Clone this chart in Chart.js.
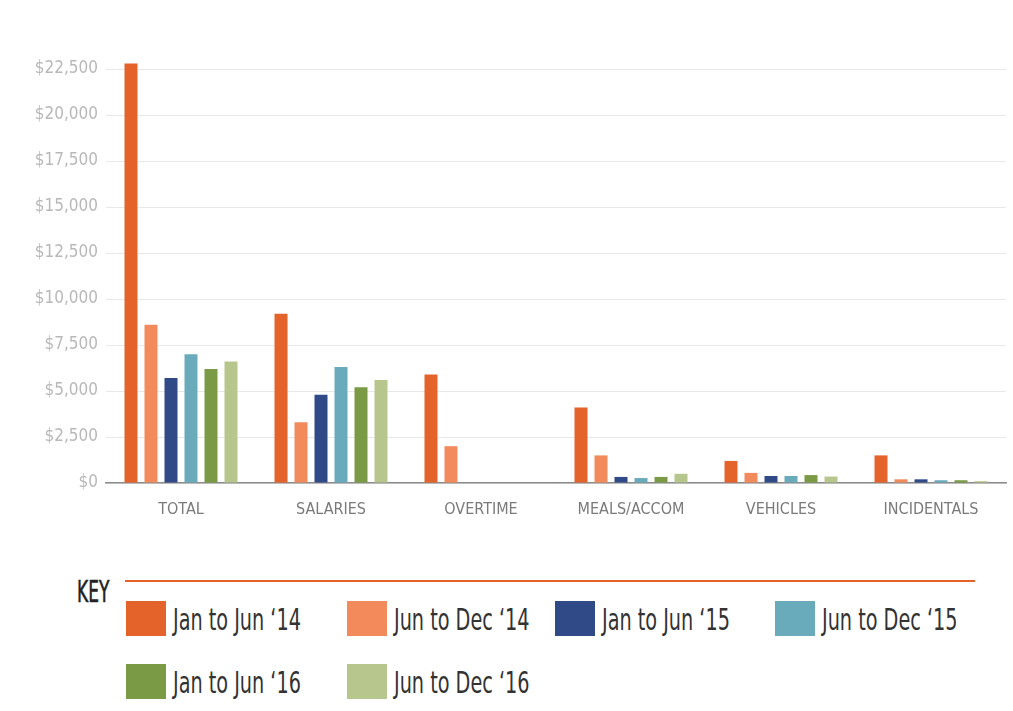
<!DOCTYPE html>
<html>
<head>
<meta charset="utf-8">
<script src="https://cdn.jsdelivr.net/npm/chart.js@4"></script>
<style>
  body { margin: 0; background: #fff; width: 1013px; height: 711px; overflow: hidden; position: relative;
         font-family: 'Liberation Sans Narrow', 'DejaVu Sans Condensed', sans-serif; }
  #chartBox { position: absolute; left: 0; top: 0; width: 1013px; height: 540px; }
  #keyTitle { position: absolute; left: 77px; top: 574px; font-size: 30px; color: #222;
              transform: scaleX(0.63); transform-origin: left top; -webkit-text-stroke: 0.6px #222; }
  #keyLine { position: absolute; left: 125px; top: 580px; width: 850px; height: 2px; background: #E4632A; }
  .key-item { position: absolute; height: 35px; display: flex; align-items: center; white-space: nowrap; }
  .key-box { width: 40px; height: 35px; margin-right: 7px; flex: none; }
  .key-text { display: inline-block; font-size: 31px; color: #333; transform: scaleX(0.69); transform-origin: left center; }
</style>
</head>
<body>
<div id="chartBox"><canvas id="expenseChart"></canvas></div>
<div id="keyTitle">KEY</div>
<div id="keyLine"></div>
<div id="key"></div>

<script>
const categories = ["TOTAL", "SALARIES", "OVERTIME", "MEALS/ACCOM", "VEHICLES", "INCIDENTALS"];
const seriesNames = ["Jan to Jun \u201814", "Jun to Dec \u201814", "Jan to Jun \u201815", "Jun to Dec \u201815", "Jan to Jun \u201816", "Jun to Dec \u201816"];

const janJun14 = [22800, 9200, 5900, 4100, 1200, 1500];
const junDec14 = [8600, 3300, 2000, 1500, 550, 200];
const janJun15 = [5700, 4800, 0, 330, 380, 200];
const junDec15 = [7000, 6300, 0, 270, 380, 150];
const janJun16 = [6200, 5200, 0, 330, 430, 150];
const junDec16 = [6600, 5600, 0, 500, 350, 100];

const yTicks = [0, 2500, 5000, 7500, 10000, 12500, 15000, 17500, 20000, 22500];

const palette = ["#E4632A", "#F28A5C", "#2F4A86", "#6AABBB", "#7A9A45", "#B7C68C"];
const seriesValues = [janJun14, junDec14, janJun15, junDec15, janJun16, junDec16];

const labelFont = "'Liberation Sans Narrow', 'DejaVu Sans Condensed', sans-serif";

const ctx = document.getElementById("expenseChart").getContext("2d");
new Chart(ctx, {
  type: "bar",
  data: {
    labels: categories,
    datasets: seriesNames.map((name, i) => ({
      label: name,
      data: seriesValues[i],
      backgroundColor: palette[i],
      categoryPercentage: 0.8,
      barPercentage: 0.65,
      clip: false
    }))
  },
  options: {
    responsive: true,
    maintainAspectRatio: false,
    animation: false,
    layout: { padding: { top: 69, right: 7, bottom: 0, left: 0 } },
    plugins: {
      legend: { display: false },
      tooltip: { enabled: false }
    },
    scales: {
      x: {
        grid: { color: "transparent", drawTicks: false },
        border: { display: true, color: "#8c8c8c", width: 1.5 },
        ticks: {
          padding: 17,
          color: "#7a7a7a",
          font: { family: labelFont, size: 16 }
        },
        afterFit: scale => { scale.height = 57; }
      },
      y: {
        min: 0,
        max: 22500,
        afterBuildTicks: scale => { scale.ticks = yTicks.map(v => ({ value: v })); },
        grid: { color: "#e8e8e8", drawTicks: false },
        border: { display: false },
        ticks: {
          padding: 8,
          color: "#b8b8b8",
          font: { family: labelFont, size: 17 },
          callback: v => "$" + v.toLocaleString("en-US")
        },
        afterFit: scale => { scale.width = 106; }
      }
    }
  }
});

// key below the chart
const keyCols = [126, 347, 555, 775];
const keyRows = [601, 664];
const key = document.getElementById("key");
seriesNames.forEach((name, i) => {
  const item = document.createElement("div");
  item.className = "key-item";
  item.style.left = keyCols[i % 4] + "px";
  item.style.top = keyRows[Math.floor(i / 4)] + "px";
  item.innerHTML = `<div class="key-box" style="background:${palette[i]}"></div><span class="key-text">${name}</span>`;
  key.appendChild(item);
});
</script>
</body>
</html>
